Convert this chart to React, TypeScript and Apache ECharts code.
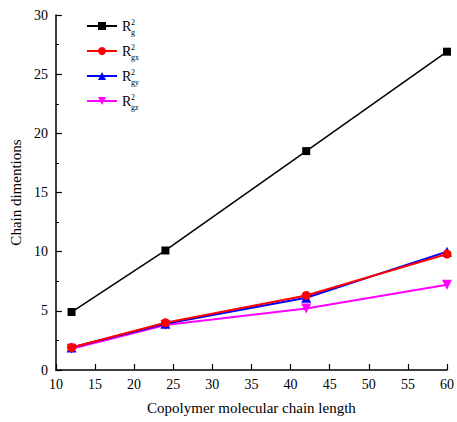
import React, { useEffect, useRef } from "react";
import * as echarts from "echarts";

const chainLength = [12, 24, 42, 60];
const rg = [4.9, 10.1, 18.5, 26.9];
const rgx = [1.9, 4.0, 6.3, 9.8];
const rgy = [1.9, 3.9, 6.1, 10.0];
const rgz = [1.8, 3.8, 5.2, 7.2];
const seriesNames = ["Rg2", "Rgx2", "Rgy2", "Rgz2"];
const subscripts = ["g", "gx", "gy", "gz"];
const colors = ["#000000", "#ff0000", "#0000ff", "#ff00ff"];
const symbols = ["rect", "circle", "triangle", "path://M0,0 L10,0 L5,9 Z"];

const FONT = "Liberation Serif";

export default function App() {
  const ref = useRef<HTMLDivElement>(null);
  useEffect(() => {
    if (!ref.current) return;
    const chart = echarts.init(ref.current, null, { renderer: "svg" });
    const values = [rg, rgx, rgy, rgz];
    const series = values.map((v, i) => ({
      name: seriesNames[i],
      type: "line",
      data: chainLength.map((x, j) => [x, v[j]]),
      symbol: symbols[i],
      symbolSize: i === 0 ? 8 : i === 1 ? 9 : 10,
      lineStyle: { color: colors[i], width: i === 0 ? 1.5 : 2 },
      itemStyle: { color: colors[i] },
      z: 10 - i,
    }));
    chart.setOption({
      animation: false,
      backgroundColor: "#ffffff",
      textStyle: { fontFamily: FONT },
      grid: { left: 54, right: 9, top: 15, bottom: 52 },
      legend: {
        orient: "vertical",
        left: 81,
        top: 14,
        itemWidth: 30,
        itemHeight: 10,
        itemGap: 11,
        data: seriesNames,
        formatter: () => "{r|R}",
        textStyle: {
          rich: {
            r: { fontFamily: FONT, fontSize: 14, color: "#000", verticalAlign: "middle", lineHeight: 16 },
          },
        },
      },
      graphic: subscripts.map((s, i) => ({
        type: "text",
        left: 131,
        top: 17 + i * 25,
        silent: true,
        style: { text: `2\n${s}`, font: `8px ${FONT}`, lineHeight: 10, fill: "#000" },
      })),
      xAxis: {
        type: "value",
        min: 10,
        max: 60,
        interval: 5,
        name: "Copolymer molecular chain length",
        nameLocation: "middle",
        nameGap: 30,
        nameTextStyle: { fontFamily: FONT, fontSize: 15, color: "#000" },
        axisLine: { lineStyle: { color: "#000", width: 1.5 } },
        axisTick: { inside: true, length: 6, lineStyle: { color: "#000", width: 1.2 } },
        axisLabel: { fontFamily: FONT, fontSize: 14, color: "#000", margin: 7 },
        splitLine: { show: false },
      },
      yAxis: {
        type: "value",
        min: 0,
        max: 30,
        interval: 5,
        name: "Chain dimentions",
        nameLocation: "middle",
        nameGap: 30,
        nameTextStyle: { fontFamily: FONT, fontSize: 15, color: "#000" },
        axisLine: { lineStyle: { color: "#000", width: 1.5 } },
        axisTick: { inside: true, length: 6, lineStyle: { color: "#000", width: 1.2 } },
        minorTick: { show: true, splitNumber: 2, length: 3, lineStyle: { color: "#000", width: 1 } },
        axisLabel: { fontFamily: FONT, fontSize: 14, color: "#000", margin: 8 },
        splitLine: { show: false },
      },
      series,
    });
    return () => chart.dispose();
  }, []);
  return <div ref={ref} style={{ width: 457, height: 422, position: "absolute", left: 0, top: 0 }} />;
}
